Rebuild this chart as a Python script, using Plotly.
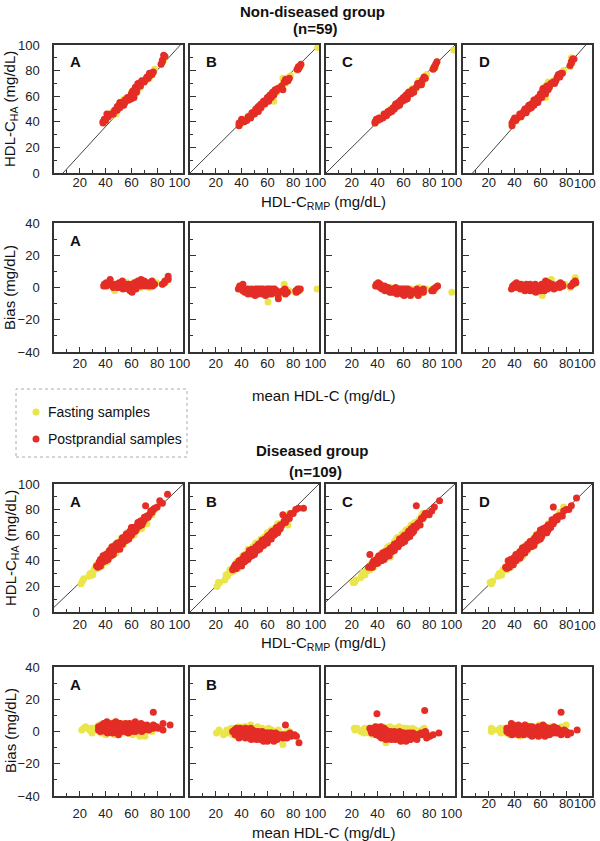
import plotly.graph_objects as go

# ---------------- DATA ----------------
methods = ["A", "B", "C", "D"]

# Non-diseased group (n=59) : reference-method values (RMP) and bias (HA - RMP) per method
rmp_nd_post = [38, 38, 39, 40, 41, 42, 44, 45, 46, 47, 48, 49, 49, 50, 51, 51, 52, 53, 53, 54,
               54, 55, 55, 56, 57, 57, 58, 58, 59, 60, 60, 61, 61, 62, 62, 63, 63, 64, 64, 65,
               65, 66, 67, 68, 70, 71, 72, 73, 74, 74, 75, 76, 77, 83, 84, 84, 85, 86, 55]
rmp_nd_fast = [39, 38, 40, 40, 42, 43, 44, 46, 46, 48, 48, 50, 49, 51, 51, 52, 53, 53, 54, 54,
               55, 56, 55, 57, 57, 58, 58, 59, 60, 60, 61, 61, 62, 62, 63, 64, 63, 65, 64, 66,
               65, 67, 67, 69, 70, 72, 72, 74, 74, 75, 76, 77, 78, 83, 85, 84, 86, 99, 54]

bias_nd_post_A = [2, 1, 3, 1, 5, 2, 2, 1, 0, 2, 1, 3, 0, 2, 4, 0, 1, 0, 2, -1,
                  1, 0, 2, 1, 0, 2, -1, 1, 0, 2, -2, 1, 3, -3, 0, 2, 4, 1, -1, 3,
                  5, 2, 1, 4, 1, 2, 3, 1, 4, 2, 3, 1, 2, 2, 4, 3, 7, 5, 1]
bias_nd_post_B = [-1, 1, 0, 2, -1, -2, -3, -1, -2, -4, -1, -3, -2, -4, -1, -2, -3, -5, -1, -2,
                  -3, -1, -4, -2, -3, -1, -2, -4, -2, -3, -1, -5, -2, -3, -1, -4, -2, -1, -3, -2,
                  -4, -1, -3, -2, -4, -3, -7, -2, -3, -1, -2, -4, -3, -2, -1, -3, -2, -1, -2]
bias_nd_post_C = [1, 2, 3, 1, 2, 0, -1, 1, -1, -2, 0, -1, -2, -1, -3, -2, -1, -3, -2, 0,
                  -1, -2, -3, -1, -2, -4, -1, -2, -3, -1, -2, -4, -3, -1, -2, -5, -3, -2, -1, -3,
                  -2, -4, -2, -5, -3, -1, -2, -4, -3, -5, -2, -1, -3, -2, -1, -2, 0, 1, -2]
bias_nd_post_D = [1, -1, 2, 3, 0, 1, 2, -1, 0, 1, 2, -2, 0, 1, -1, 2, 0, -2, 1, -1,
                  0, 2, -2, 1, -1, 0, -3, 1, -1, 2, 0, -2, 1, 3, 4, -1, 2, 0, -2, 1,
                  3, -1, 0, 2, 1, -1, 0, 2, 1, 3, 0, 2, 1, 1, 3, 2, 4, 3, 0]

bias_nd_fast_A = [1, 2, 2, 2, 4, 1, 1, 2, 1, -2, 1, 2, 1, 3, 3, 1, 0, 1, 3, 0,
                  0, 1, 3, 0, 1, 1, -1, 0, 1, 3, -1, 0, 2, -2, 1, 1, 3, 0, 2, 3,
                  4, 1, 0, 3, 2, 1, 2, 0, 3, 1, 2, 2, 3, 2, 3, 4, 5, 6, 3]
bias_nd_fast_B = [-1, 0, 1, 1, -2, -1, -2, -2, -1, -3, -2, -2, -3, -3, -2, -1, -2, -4, -2, -1,
                  -2, -3, -2, -3, -1, -2, -3, -3, -1, -2, -2, -4, -1, -2, -3, -2, -3, -9, -2, -1,
                  -3, -2, -4, -2, -3, 2, -3, -2, -4, -1, -3, -2, -2, -3, -2, -1, -2, -1, -3]
bias_nd_fast_C = [2, 1, 2, 2, 1, 1, 0, 0, -2, -1, -1, 0, -1, -2, -2, -3, -2, -1, -1, -1,
                  -2, -1, -2, -2, -3, -1, -3, -1, -2, -2, -4, -1, -3, -2, -1, -3, -4, -1, -2, -3,
                  -3, -2, -1, -3, -4, -2, 0, -3, -2, -4, -3, -2, -1, -1, -2, -1, 1, -3, -2]
bias_nd_fast_D = [0, 1, 1, 2, 1, 0, 1, 0, 1, 0, 1, -1, 1, 0, 0, 1, -1, -1, 0, 0,
                  1, 1, -1, 0, 0, -1, -2, 0, 0, 1, -1, -1, 2, 2, 3, -5, 1, 1, 4, 5,
                  2, 0, 1, 1, 2, 0, 1, 1, 2, 2, 1, 1, 2, 0, 2, 6, 3, 6, 1]

# Diseased group (n=109)
rmp_d_post = [33, 34, 35, 35, 36, 36, 37, 37, 38, 38,
              39, 39, 40, 40, 40, 41, 41, 42, 42, 42,
              43, 43, 44, 44, 44, 45, 45, 45, 46, 46,
              46, 47, 47, 48, 48, 48, 49, 49, 50, 50,
              50, 51, 51, 52, 52, 53, 53, 53, 54, 54,
              55, 55, 55, 56, 56, 57, 57, 57, 58, 58,
              58, 59, 59, 60, 60, 60, 61, 61, 61, 62,
              62, 63, 63, 64, 64, 65, 65, 66, 66, 67,
              67, 68, 68, 69, 70, 70, 71, 72, 73, 74,
              75, 76, 77, 78, 80, 82, 84, 88, 43, 47,
              52, 56, 59, 63, 66, 71, 49, 54, 41]
rmp_d_fast = [21, 22, 23, 27, 28, 29, 30, 31, 32, 33,
              33, 34, 35, 35, 36, 36, 37, 37, 38, 38,
              39, 39, 40, 40, 41, 41, 42, 42, 43, 43,
              44, 44, 44, 45, 45, 46, 46, 47, 47, 48,
              48, 48, 49, 49, 50, 50, 51, 51, 52, 52,
              53, 53, 54, 54, 55, 55, 56, 56, 57, 57,
              58, 58, 59, 59, 60, 60, 61, 62, 62, 63,
              63, 64, 65, 65, 66, 67, 68, 69, 70, 71,
              72, 73, 74, 75, 76, 77, 78, 69, 67, 46,
              50, 54, 43, 39, 58, 47, 52, 41, 56, 45,
              60, 49, 53, 38, 44, 51, 61, 55, 64]

bias_d_post_A = [3, 1, 4, 2, 5, 0, 3, 2, 6, 1,
                 2, 4, 0, 3, 5, 1, 2, -1, 4, 3,
                 2, 5, 1, 3, 0, 4, 2, 6, 1, 3,
                 -1, 2, 4, 1, 3, 5, 0, 2, 3, 1,
                 4, 2, -2, 3, 1, 5, 2, 0, 3, 4,
                 1, 3, 2, 5, 0, 2, 4, 1, 3, -1,
                 2, 4, 1, 6, 3, 0, 2, 5, 1, 3,
                 4, 2, 0, 3, 1, 5, 2, 3, 1, 4,
                 2, 0, 3, 1, 4, 2, 12, 3, 1, 2,
                 4, 2, 3, 3, 2, 5, 1, 4, 1, 3,
                 2, 0, 4, 1, 3, 2, 5, 1, 2]
bias_d_post_B = [0, 1, -1, 2, 0, -2, 1, -1, 0, 2,
                 -1, 1, -2, 0, -4, 1, -1, -3, 0, 2,
                 -1, -3, 0, 1, -2, -4, 0, -1, 2, -3,
                 -1, -2, 0, -4, -1, 1, -3, -2, -1, -5,
                 -2, 0, -3, -1, -4, -2, 0, -3, -5, -1,
                 -2, -4, -1, -3, 0, -5, -2, -3, -1, -4,
                 -2, -5, -3, -1, -6, -2, -4, -3, -1, -5,
                 -3, -2, -6, -4, -1, -3, -5, -2, -4, -3,
                 -1, -6, -3, -4, -2, -5, -3, 4, -2, -4,
                 -3, -2, -4, -1, -3, -2, -3, -7, -1, -2,
                 -3, -2, -4, -1, -5, -3, -2, -3, 0]
bias_d_post_C = [2, 11, 1, 0, 2, -1, 1, 3, 0, 2,
                 1, -1, 2, 0, -2, 1, 3, -1, 0, -2,
                 1, -3, 0, -2, 2, -1, -4, 0, -3, 1,
                 -2, 0, -3, -1, -4, 0, -2, -5, -1, -3,
                 0, -2, -4, -1, -3, -5, -2, 0, -3, -1,
                 -4, -2, -1, -3, -5, -2, 0, -4, -3, -1,
                 -2, -5, -3, -1, -4, -2, -6, -3, -1, -4,
                 -3, -5, -2, -1, -4, -3, -6, -2, -4, -5,
                 -3, -1, -5, -2, 13, -4, -3, -2, -5, -1,
                 -2, -1, 0, -1, -4, -3, -2, -1, 0, -3,
                 -1, -3, -2, -4, -1, -2, -3, -2, 1]
bias_d_post_D = [2, 0, 5, 1, 3, -1, 2, 4, 0, 1,
                 3, -2, 1, 2, 0, 4, -1, 2, 1, 3,
                 0, 2, -2, 1, 3, 0, 2, -1, 4, 1,
                 2, -1, 0, 3, 1, -2, 2, 0, 1, 3,
                 -1, 1, 2, 0, 3, -2, 1, 2, 0, -1,
                 2, 0, -3, 1, 2, -1, 3, 0, -2, 1,
                 0, 2, -1, 4, 1, -3, 0, 2, -2, 1,
                 3, -1, 0, 2, -2, 1, -3, 0, 2, -1,
                 1, -2, 0, 3, -1, 12, 0, 2, -1, 1,
                 0, -1, -2, 1, 0, -2, -1, 1, 2, 0,
                 1, -1, 2, 0, -2, 1, 0, -1, 3]

bias_d_fast_A = [1, 2, 3, 1, 2, 0, -1, 2, 3, 1,
                 4, 2, 0, 3, 1, 5, 2, -1, 3, 1,
                 2, 0, 4, 1, 3, -2, 2, 5, 0, 3,
                 1, 4, 6, 2, -1, 3, 1, 5, 0, 2,
                 3, -2, 1, 4, 2, 0, 3, 1, 5, 2,
                 0, 3, 1, -1, 4, 2, 0, 3, 1, 5,
                 2, -1, 3, 0, 4, 1, 2, -2, 3, 0,
                 1, 3, -1, 2, 0, 1, -3, 2, 0, -2,
                 -3, 1, 2, 4, 0, 3, 2, 1, -1, 3,
                 2, 1, 4, 3, 0, 2, 5, 1, 3, 2,
                 1, 3, 0, 2, 4, 1, 3, 2, 0]
bias_d_fast_B = [-1, 1, 0, -2, 1, -1, 0, 2, -1, 1,
                 0, -2, 1, -1, 3, 0, -3, 1, 2, -1,
                 0, 2, -1, 1, -2, 3, 0, -1, 2, 1,
                 -2, 0, 1, 4, -1, 2, -3, 0, 1, -2,
                 1, -1, 2, 0, -3, 1, 3, -2, 0, 2,
                 -1, 1, -2, 0, 2, -3, 1, -1, 0, -4,
                 -2, 1, -1, 0, -3, 2, -1, -4, 0, -2,
                 1, -3, -1, 0, -5, -2, 1, -3, -1, -4,
                 -3, -2, -4, -1, -8, 0, -2, -5, -1, 0,
                 1, -2, 2, 0, -1, -3, 1, 3, -2, 0,
                 -1, 2, 0, 1, -2, -1, 0, 1, -3]
bias_d_fast_C = [2, 1, 2, 0, 1, 2, -1, 1, 0, 2,
                 1, -1, 2, 0, 3, 1, -2, 0, 2, 1,
                 -1, 2, 0, 3, -2, 1, 2, -1, 0, 3,
                 1, -3, 0, 2, -1, 1, -4, 2, 0, -2,
                 1, 3, -1, 0, -7, 2, -2, 1, -3, 0,
                 2, -1, 1, -2, 3, 0, -1, 2, -3, 1,
                 0, -2, 2, -1, 1, -3, 0, 2, -1, -2,
                 1, -1, 0, -3, 2, -2, 1, -1, 0, -2,
                 0, -1, 1, 2, -2, 0, -1, 1, -1, -4,
                 1, -2, 0, 2, -1, 1, -3, 0, 2, -1,
                 0, 1, -2, 2, -1, 0, 1, -2, 1]
bias_d_fast_D = [2, 0, 1, 1, 2, 0, -1, 2, 1, 0,
                 2, -1, 1, 3, 0, 2, -2, 1, 0, 3,
                 1, -1, 2, 0, 3, 1, -2, 2, 0, 1,
                 3, 0, -1, 2, 1, -3, 2, 0, 4, 1,
                 -1, 2, 0, 3, 1, -2, 2, 0, 1, 3,
                 0, 2, -1, 1, 3, 0, -2, 2, 1, 4,
                 1, -1, 2, 0, 3, 1, -2, 0, 2, -1,
                 2, 0, 1, -2, 3, 1, 0, 2, -1, 1,
                 0, 2, 1, 3, 0, 1, 4, 0, 2, -1,
                 1, 0, 2, -1, 3, 0, 1, 2, -2, 1,
                 0, 2, 1, -1, 3, 0, 2, 1, -1]

# Fitted lines (slope, intercept) per method
line_slope_nd = [1.10, 1.00, 1.00, 1.14]
line_int_nd = [-7.7, 0.0, 0.0, -8.5]
line_slope_d = [0.96, 1.00, 0.92, 0.985]
line_int_d = [3.7, 0.0, 8.0, 1.5]
line_x = [0, 100]

scatter_ticks = [0, 20, 40, 60, 80, 100]
bias_ticks = [-40, -20, 0, 20, 40]
x_ticks = [20, 40, 60, 80, 100]
x_ticktext = ["20", "40", "60", "80", "100"]

# ---------------- STYLE / LAYOUT ----------------
W, H = 600, 841
YELLOW = "#EAE64A"
RED = "#E42D27"
FONT = "Liberation Sans, Arial, sans-serif"
AX = "#333333"
PAD = "\u00a0\u00a0"   # nudges the last x label leftwards, as in the original

panel_x = [(54, 183), (190, 319), (326, 455), (463, 592)]
row_y = [(45, 173), (223, 352), (484, 612), (667, 796)]
# vertical centre (px) of x tick labels per row, used for the right-most "100" label
row_label_y = [184, 364, 625, 803]


def fx(p):
    return p / W


def fy(p):
    return 1 - p / H


groups = [
    dict(post=rmp_nd_post, fast=rmp_nd_fast,
         bpost=[bias_nd_post_A, bias_nd_post_B, bias_nd_post_C, bias_nd_post_D],
         bfast=[bias_nd_fast_A, bias_nd_fast_B, bias_nd_fast_C, bias_nd_fast_D],
         slope=line_slope_nd, inter=line_int_nd),
    dict(post=rmp_d_post, fast=rmp_d_fast,
         bpost=[bias_d_post_A, bias_d_post_B, bias_d_post_C, bias_d_post_D],
         bfast=[bias_d_fast_A, bias_d_fast_B, bias_d_fast_C, bias_d_fast_D],
         slope=line_slope_d, inter=line_int_d),
]

fig = go.Figure()
layout = {}
annotations = []
xstandoff = {0: -3, 1: -1, 2: 0, 3: 5}

idx = 0
for r in range(4):
    g = groups[r // 2]
    is_scatter = (r % 2 == 0)
    for c in range(4):
        idx += 1
        xname = "x" if idx == 1 else f"x{idx}"
        yname = "y" if idx == 1 else f"y{idx}"
        xkey = "xaxis" if idx == 1 else f"xaxis{idx}"
        ykey = "yaxis" if idx == 1 else f"yaxis{idx}"
        x0, x1 = panel_x[c]
        y0, y1 = row_y[r]
        so = xstandoff[r]
        if r == 3 and c == 3:
            so = -5
        if c < 3:
            tv = x_ticks
            tt = x_ticktext[:-1] + [x_ticktext[-1] + PAD]
        else:
            tv = x_ticks[:-1]
            tt = x_ticktext[:-1]
        layout[xkey] = dict(
            domain=[fx(x0), fx(x1)], anchor=yname, range=[0, 100], automargin=False,
            tickmode="array", tickvals=tv, ticktext=tt, tickangle=0,
            ticks="inside", ticklen=5,
            tickcolor=AX, tickwidth=1, showgrid=False, zeroline=False,
            showline=True, linecolor=AX, linewidth=1.5, mirror=True,
            tickfont=dict(size=13, color="#222", family=FONT),
            ticklabelstandoff=so,
            minor=dict(tickmode="array", tickvals=[10, 30, 50, 70, 90],
                       ticks="inside", ticklen=3, tickcolor=AX),
        )
        if c == 3:
            annotations.append(dict(text=x_ticktext[-1], x=x_ticks[-1], xref=xname,
                                    y=fy(row_label_y[r]), yref="paper", xshift=-7,
                                    showarrow=False, xanchor="center", yanchor="middle",
                                    font=dict(size=13, color="#222", family=FONT)))
        yt = scatter_ticks if is_scatter else bias_ticks
        yr = [0, 100] if is_scatter else [-40, 40]
        ym = [10, 30, 50, 70, 90] if is_scatter else [-30, -10, 10, 30]
        layout[ykey] = dict(
            domain=[fy(y1), fy(y0)], anchor=xname, range=yr, automargin=False,
            tickmode="array", tickvals=yt, ticks="inside", ticklen=6,
            tickcolor=AX, tickwidth=1, showgrid=False, zeroline=False,
            showline=True, linecolor=AX, linewidth=1.5, mirror=True,
            showticklabels=(c == 0),
            tickfont=dict(size=13, color="#222", family=FONT),
            ticklabelstandoff=10,
            minor=dict(tickmode="array", tickvals=ym,
                       ticks="inside", ticklen=3, tickcolor=AX),
        )

        if is_scatter:
            ly = [g["slope"][c] * v + g["inter"][c] for v in line_x]
            fig.add_trace(go.Scatter(x=line_x, y=ly, mode="lines",
                                     line=dict(color="#444", width=1),
                                     xaxis=xname, yaxis=yname,
                                     showlegend=False, hoverinfo="skip"))
        for rmp, bias, col in ((g["fast"], g["bfast"][c], YELLOW),
                               (g["post"], g["bpost"][c], RED)):
            if is_scatter:
                xs = rmp
                ys = [a + b for a, b in zip(rmp, bias)]
            else:
                xs = [a + b / 2 for a, b in zip(rmp, bias)]
                ys = bias
            fig.add_trace(go.Scatter(x=xs, y=ys, mode="markers",
                                     marker=dict(color=col, size=7, line=dict(width=0)),
                                     cliponaxis=False, xaxis=xname, yaxis=yname,
                                     showlegend=False))

        show_letter = is_scatter or (r == 1 and c == 0) or (r == 3 and c < 2)
        if show_letter:
            annotations.append(dict(text=f"<b>{methods[c]}</b>", x=fx(x0 + 21), y=fy(y0 + 17),
                                    xref="paper", yref="paper", showarrow=False,
                                    xanchor="center", yanchor="middle",
                                    font=dict(size=15, color="#111", family=FONT)))


def ann(text, x, y, size=15, bold=False, angle=0):
    if bold:
        text = f"<b>{text}</b>"
    annotations.append(dict(text=text, x=fx(x), y=fy(y), xref="paper", yref="paper",
                            showarrow=False, xanchor="center", yanchor="middle",
                            textangle=angle,
                            font=dict(size=size, color="#111", family=FONT)))


ann("Non-diseased group", 313, 11, 15, True)
ann("(n=59)", 315, 29, 15, True)
ann("HDL-C<sub>RMP</sub> (mg/dL)", 323, 202)
ann("mean HDL-C (mg/dL)", 323, 395)
ann("Diseased group", 313, 450, 15, True)
ann("(n=109)", 315, 471, 15, True)
ann("HDL-C<sub>RMP</sub> (mg/dL)", 323, 643)
ann("mean HDL-C (mg/dL)", 323, 832)
ann("HDL-C<sub>HA</sub> (mg/dL)", 11, 109, 15, angle=-90)
ann("Bias (mg/dL)", 10, 288, 15, angle=-90)
ann("HDL-C<sub>HA</sub> (mg/dL)", 11, 548, 15, angle=-90)
ann("Bias (mg/dL)", 10, 731, 15, angle=-90)

# manual legend
shapes = [
    dict(type="rect", xref="paper", yref="paper", x0=fx(16), x1=fx(187), y0=fy(457), y1=fy(389),
         line=dict(color="#aaaaaa", width=1, dash="dot"), fillcolor="white"),
    dict(type="circle", xref="paper", yref="paper", x0=fx(32.5), x1=fx(39.5), y0=fy(415.5), y1=fy(408.5),
         line=dict(width=0), fillcolor=YELLOW),
    dict(type="circle", xref="paper", yref="paper", x0=fx(32.5), x1=fx(39.5), y0=fy(442.5), y1=fy(435.5),
         line=dict(width=0), fillcolor=RED),
]
for txt, yy in (("Fasting samples", 412), ("Postprandial samples", 439)):
    annotations.append(dict(text=txt, x=fx(46), y=fy(yy), xref="paper", yref="paper",
                            showarrow=False, xanchor="left", yanchor="middle",
                            font=dict(size=14, color="#111", family=FONT)))

fig.update_layout(
    width=W, height=H, margin=dict(l=0, r=0, t=0, b=0, autoexpand=False),
    paper_bgcolor="white", plot_bgcolor="white",
    showlegend=False, annotations=annotations, shapes=shapes,
    font=dict(family=FONT), **layout,
)

fig.write_html("out.html", config={"displayModeBar": False},
               post_script="document.body.style.margin='0';document.body.style.overflow='hidden';")
